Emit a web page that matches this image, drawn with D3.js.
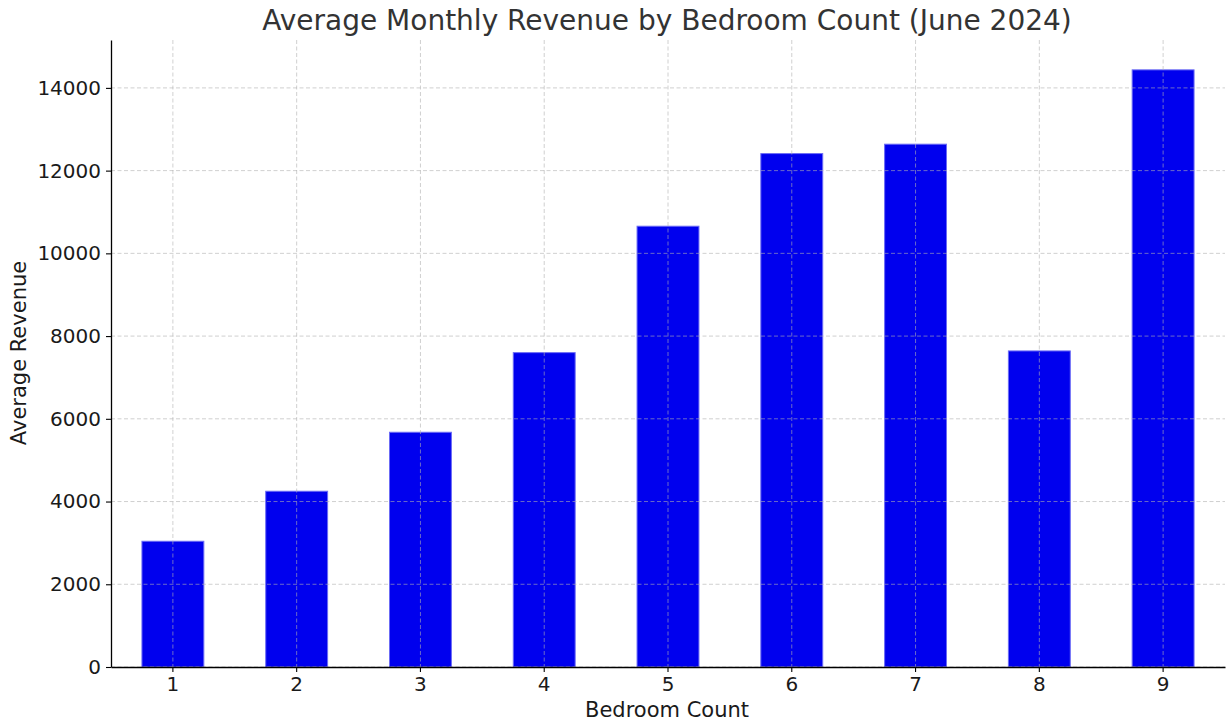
<!DOCTYPE html>
<html><head><meta charset="utf-8">
<script src="https://cdn.jsdelivr.net/npm/d3@7"></script>
<style>body{margin:0;background:#fff;} text{font-family:"DejaVu Sans",sans-serif;}</style>
</head><body><svg id="c" width="1232" height="728"></svg>
<script>
const categories = ["1","2","3","4","5","6","7","8","9"];
const revenue = [3040, 4249, 5675, 7600, 10656, 12412, 12639, 7641, 14436];
const yTicks = [0, 2000, 4000, 6000, 8000, 10000, 12000, 14000];

const svg = d3.select("#c");
const m = {left:111, right:1225, top:40, bottom:667};
const x = d3.scaleBand().domain(categories).range([m.left, m.right]).paddingInner(0.5).paddingOuter(0.25);
const y = d3.scaleLinear().domain([0, d3.max(revenue)*1.05]).range([m.bottom, m.top]);

// bars
svg.append("g").selectAll("rect").data(revenue).join("rect")
  .attr("x",(d,i)=>x(categories[i])).attr("width",x.bandwidth())
  .attr("y",d=>y(d)).attr("height",d=>y(0)-y(d))
  .attr("fill","#0000ee").attr("stroke","#6b6bf5").attr("stroke-width",1);

// grid (on top)
const grid = svg.append("g");
grid.selectAll("line.h").data(yTicks).join("line")
  .attr("x1",m.left).attr("x2",m.right).attr("y1",d=>y(d)).attr("y2",d=>y(d))
  .attr("stroke","#b0b0b0").attr("stroke-opacity",0.6).attr("stroke-dasharray","4,2.5");
grid.selectAll("line.v").data(categories).join("line")
  .attr("x1",d=>x(d)+x.bandwidth()/2).attr("x2",d=>x(d)+x.bandwidth()/2)
  .attr("y1",m.top).attr("y2",m.bottom)
  .attr("stroke","#b0b0b0").attr("stroke-opacity",0.6).attr("stroke-dasharray","4,2.5");

// axes
const xa = svg.append("g").attr("transform",`translate(0,${m.bottom})`)
  .call(d3.axisBottom(x).tickSize(5).tickPadding(5).tickSizeOuter(0));
const ya = svg.append("g").attr("transform",`translate(${m.left},0)`)
  .call(d3.axisLeft(y).tickValues(yTicks).tickFormat(d3.format("d")).tickSize(5).tickPadding(5).tickSizeOuter(0));
[xa,ya].forEach(a=>{
  a.select(".domain").attr("stroke","#000").attr("stroke-width",1.3);
  a.selectAll(".tick line").attr("stroke","#000").attr("stroke-width",1.1);
  a.selectAll(".tick text").attr("font-size","20px").attr("fill","#1a1a1a").attr("font-family","DejaVu Sans");
});

// labels
svg.append("text").attr("x",667).attr("y",30).attr("text-anchor","middle")
  .attr("font-size","28px").attr("fill","#333").text("Average Monthly Revenue by Bedroom Count (June 2024)");
svg.append("text").attr("x",667).attr("y",717).attr("text-anchor","middle")
  .attr("font-size","21px").attr("fill","#1a1a1a").text("Bedroom Count");
svg.append("text").attr("transform","translate(26,353) rotate(-90)").attr("text-anchor","middle")
  .attr("font-size","21px").attr("fill","#1a1a1a").text("Average Revenue");
</script></body></html>
